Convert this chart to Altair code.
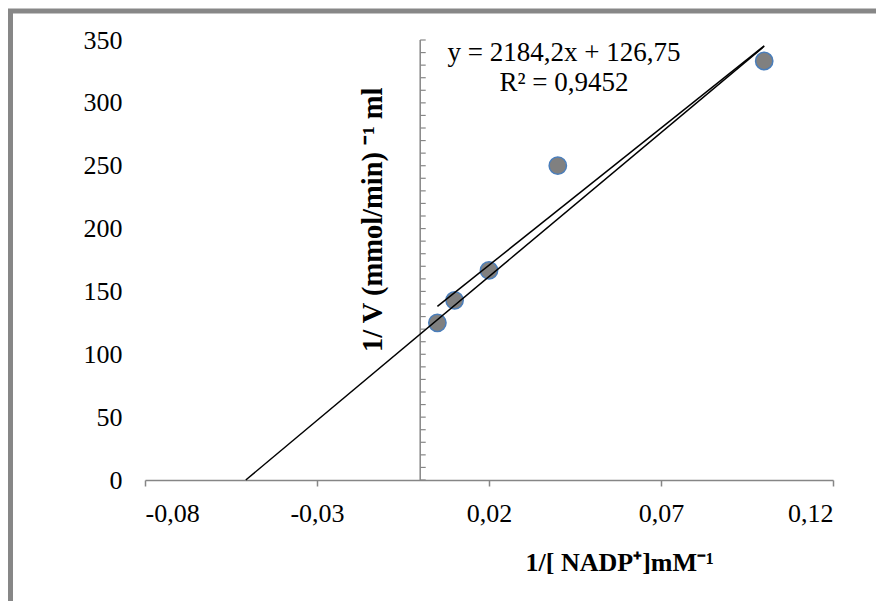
import altair as alt
import pandas as pd

# data
x_vals = [0.005, 0.01, 0.02, 0.04, 0.1]
y_vals = [125.0, 142.9, 166.7, 250.0, 333.3]

# hand-drawn extrapolation line (end points)
ext_x = [-0.0507, 0.1]
ext_y = [0.0, 345.0]

x_ticks = [-0.08, -0.03, 0.02, 0.07, 0.12]
y_ticks = [0, 50, 100, 150, 200, 250, 300, 350]
y_minor = list(range(0, 351, 10))

eq_lines = ["y = 2184,2x + 126,75", "R² = 0,9452"]
eq_x = [0.0418, 0.0418]
eq_y = [340, 316]

x_title = "1/[ NADP⁺]mM⁻¹"
y_title = "1/ V (mmol/min) ⁻¹ ml"

FONT = "Liberation Serif"
GRAY = "#868686"

pts = pd.DataFrame({"x": x_vals, "y": y_vals})
ext = pd.DataFrame({"x": ext_x, "y": ext_y})
minor = pd.DataFrame({"y": y_minor, "x": [0.0] * len(y_minor), "x2": [0.0016] * len(y_minor)})
eq = pd.DataFrame({"t": eq_lines, "x": eq_x, "y": eq_y})

xs = alt.Scale(domain=[-0.08, 0.12], nice=False, zero=False)
ys = alt.Scale(domain=[0, 350], nice=False)

xaxis = alt.Axis(values=x_ticks,
                 labelExpr="replace(replace(format(datum.value, '.2f'), '.', ','), '\u2212', '-')",
                 domainColor=GRAY, tickColor=GRAY, tickSize=6, domainWidth=1.5, tickWidth=1.5,
                 labelFont=FONT, labelFontSize=26, labelColor="black", labelPadding=14,
                 grid=False, title=None)
yaxis = alt.Axis(values=y_ticks, domain=False, ticks=False, labelFont=FONT, labelFontSize=26,
                 labelColor="black", labelPadding=23, grid=False, title=None)

base_pts = alt.Chart(pts)

points = base_pts.mark_circle(size=300, opacity=1, fill="#808080", stroke="#4a7ebb",
                              strokeWidth=1.5).encode(
    x=alt.X("x:Q", scale=xs, axis=xaxis),
    y=alt.Y("y:Q", scale=ys, axis=yaxis),
)

trend = base_pts.transform_regression("x", "y", method="linear").mark_line(
    color="black", strokeWidth=1.5).encode(x=alt.X("x:Q", scale=xs), y=alt.Y("y:Q", scale=ys))

extline = alt.Chart(ext).mark_line(color="black", strokeWidth=1.5).encode(
    x=alt.X("x:Q", scale=xs), y=alt.Y("y:Q", scale=ys))

vaxis = alt.Chart(pd.DataFrame({"x": [0.0], "y": [0], "y2": [350]})).mark_rule(
    color=GRAY, strokeWidth=1.5).encode(x=alt.X("x:Q", scale=xs), y=alt.Y("y:Q", scale=ys), y2="y2:Q")

vticks = alt.Chart(minor).mark_rule(color=GRAY, strokeWidth=1.2).encode(
    x=alt.X("x:Q", scale=xs), x2="x2:Q", y=alt.Y("y:Q", scale=ys))

eqtext = alt.Chart(eq).mark_text(font=FONT, fontSize=27, color="black", baseline="middle",
                                 align="center").encode(
    x=alt.X("x:Q", scale=xs), y=alt.Y("y:Q", scale=ys), text="t:N")

xt = alt.Chart(pd.DataFrame({"t": [x_title], "x": [0.058], "y": [-66]})).mark_text(
    font=FONT, fontSize=26, fontWeight="bold", color="black", baseline="middle", align="center").encode(
    x=alt.X("x:Q", scale=xs), y=alt.Y("y:Q", scale=ys), text="t:N")

yt = alt.Chart(pd.DataFrame({"t": [y_title], "x": [-0.0137], "y": [207]})).mark_text(
    font=FONT, fontSize=28.5, fontWeight="bold", color="black", baseline="middle", align="center",
    angle=270).encode(
    x=alt.X("x:Q", scale=xs), y=alt.Y("y:Q", scale=ys), text="t:N")

frame = alt.Chart(pd.DataFrame({"a": [0]})).mark_rect(
    fill=None, stroke="#878787", strokeWidth=5, clip=False).encode(
    x=alt.value(-134.5), x2=alt.value(800), y=alt.value(-29), y2=alt.value(650))

chart = alt.layer(frame, vaxis, vticks, points, extline, trend, eqtext, xt, yt).properties(
    width=688, height=440,
    padding={"left": 145, "top": 40, "right": 43, "bottom": 121},
    autosize=alt.AutoSizeParams(type="none"),
    background="white",
).configure_view(stroke=None)

chart.save("out.html", embed_options={"renderer": "svg", "actions": False})
